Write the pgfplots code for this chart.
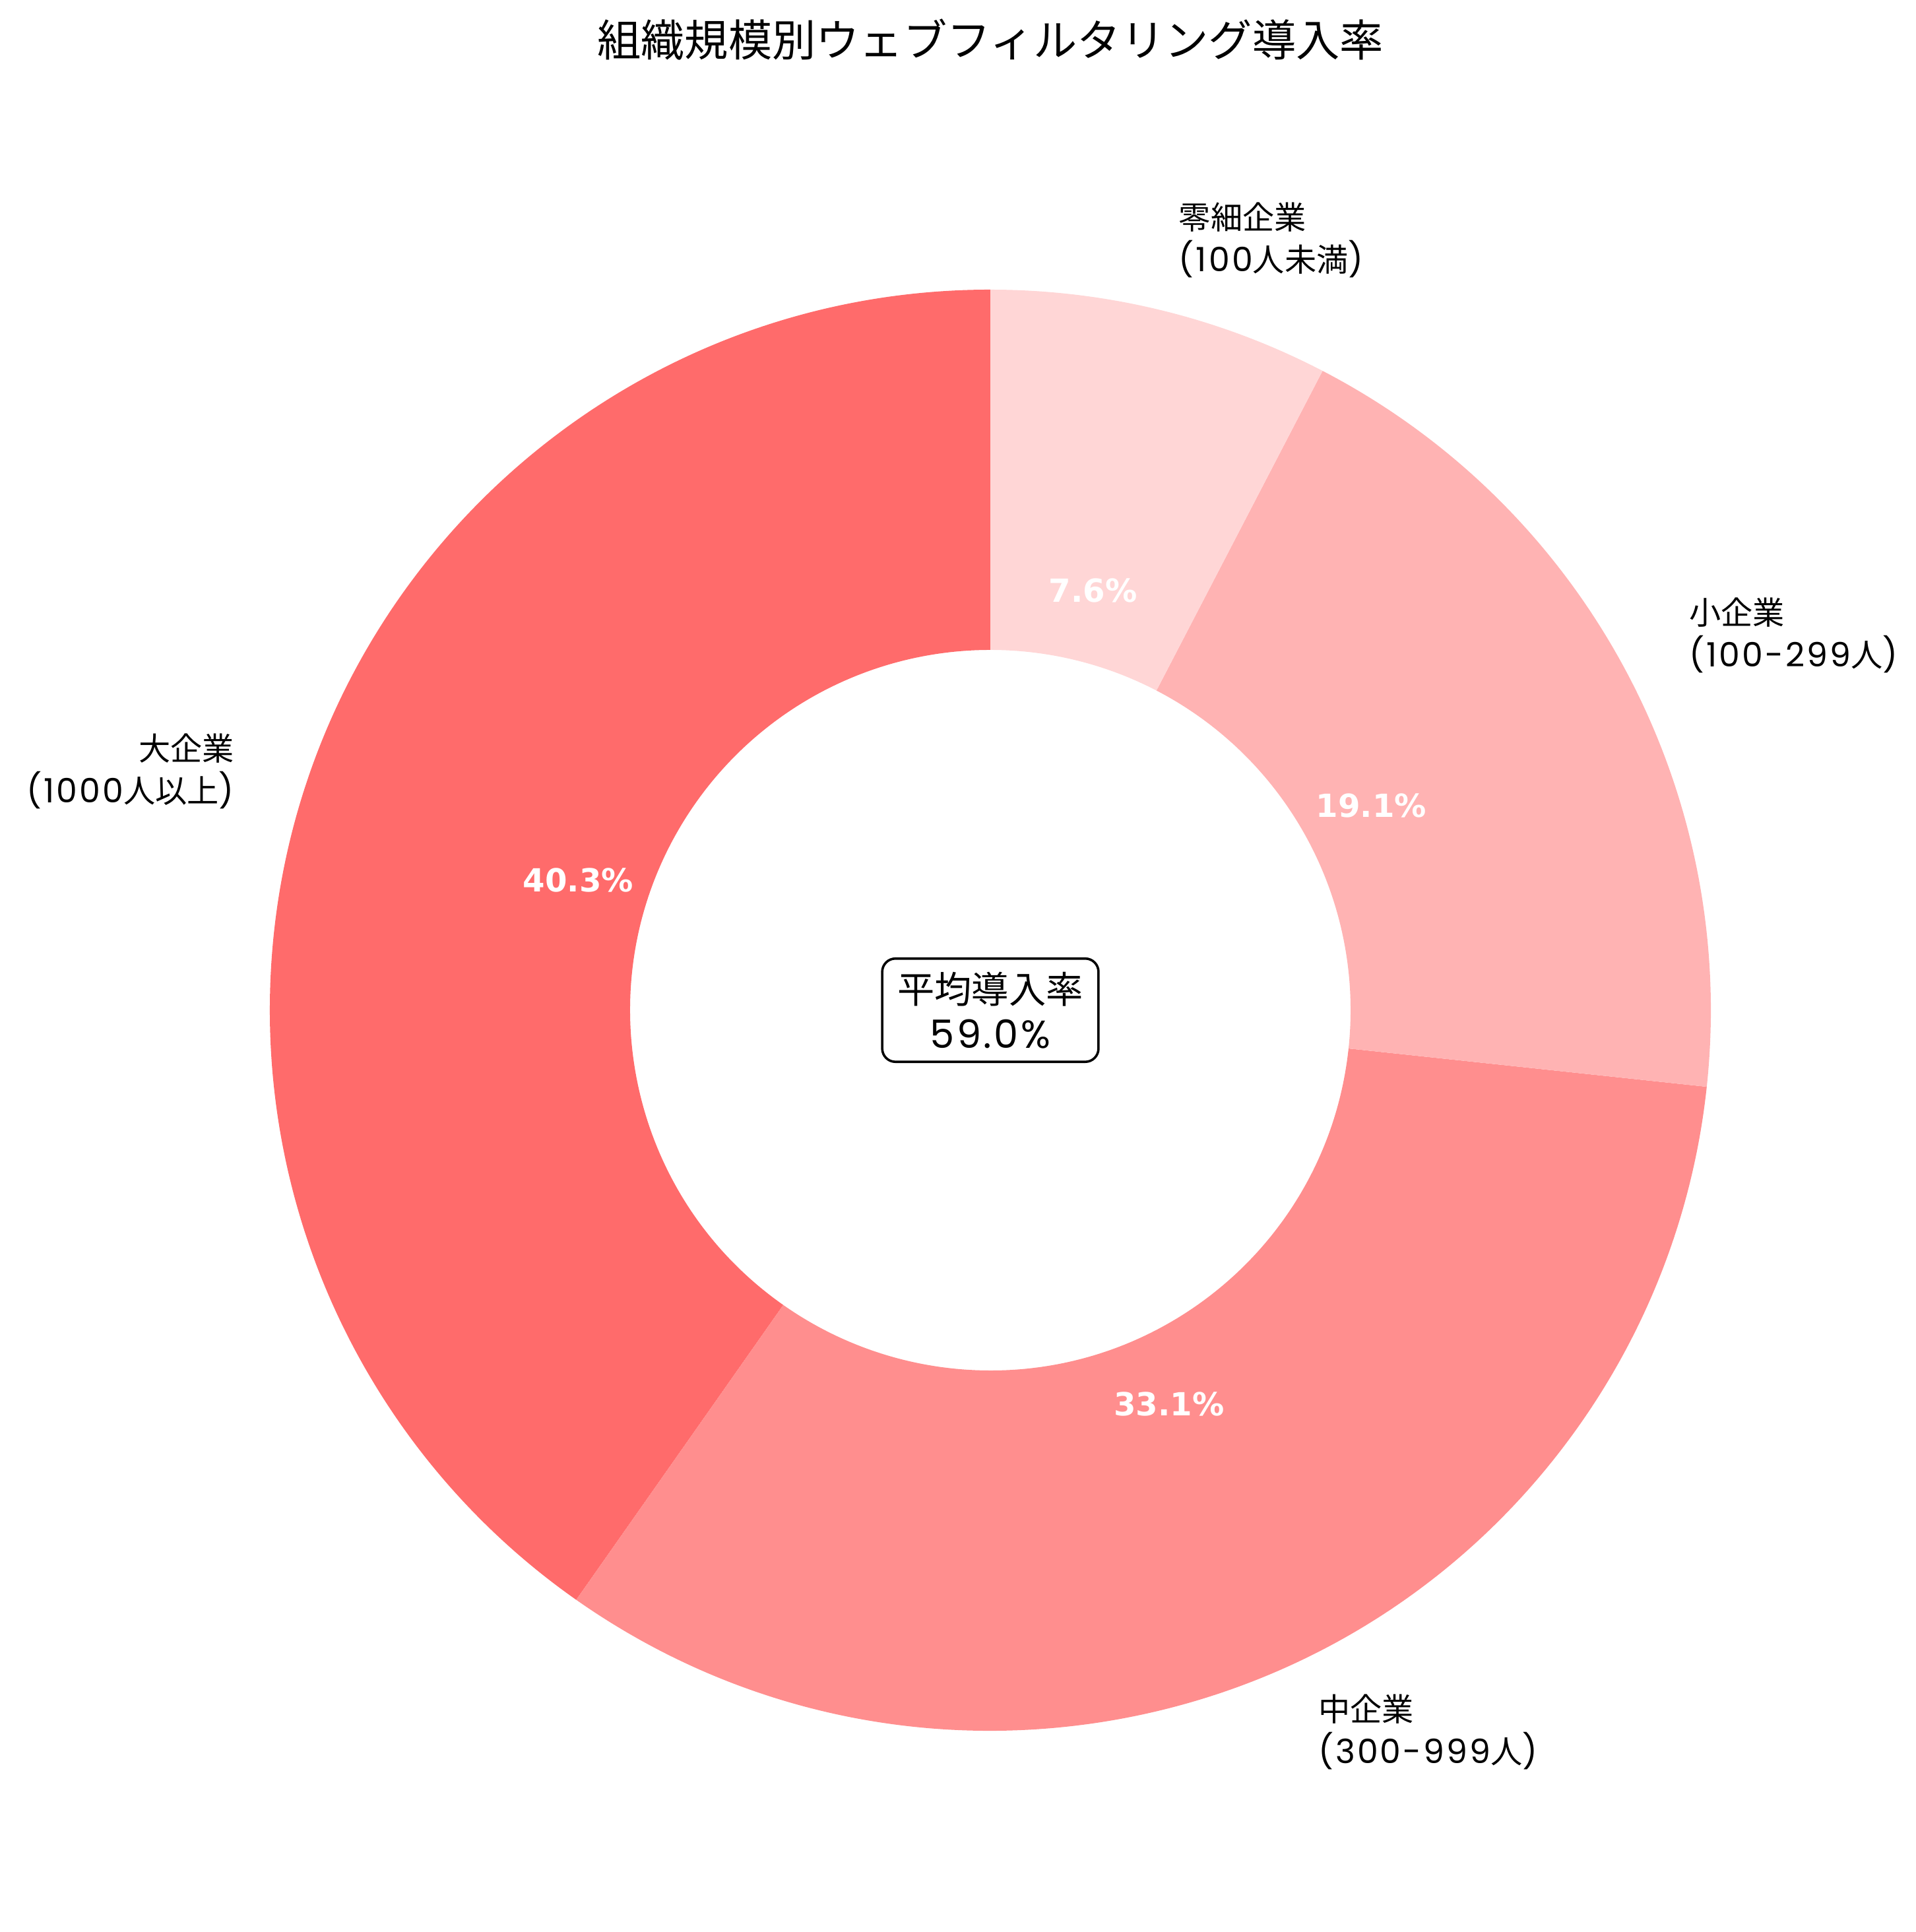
\documentclass[border=0pt]{standalone}
\usepackage{pgfplots}
\pgfplotsset{compat=1.18}
\usepackage{fontspec}
\setmainfont{Noto Sans CJK JP}
\newfontfamily\pctfont{DejaVu Sans}
\newfontfamily\lat{Poppins}[Scale=1.05, LetterSpace=6]

\definecolor{cLarge}{HTML}{FF6B6B}
\definecolor{cMid}{HTML}{FF8E8E}
\definecolor{cSmall}{HTML}{FFB3B3}
\definecolor{cMicro}{HTML}{FFD6D6}

% adoption counts: large, mid, small, micro
\def\vA{95}\def\vB{78}\def\vC{45}\def\vD{18}
\pgfmathsetmacro\tot{\vA+\vB+\vC+\vD}
\pgfmathsetmacro\aA{90}
\pgfmathsetmacro\aB{\aA+\vA/\tot*360}
\pgfmathsetmacro\aC{\aB+\vB/\tot*360}
\pgfmathsetmacro\aD{\aC+\vC/\tot*360}
\pgfmathsetmacro\aE{\aD+\vD/\tot*360}
\pgfmathsetmacro\mA{(\aA+\aB)/2}
\pgfmathsetmacro\mB{(\aB+\aC)/2}
\pgfmathsetmacro\mC{(\aC+\aD)/2}
\pgfmathsetmacro\mD{(\aD+\aE)/2}

\newcommand\ringpart[3]{%
  \fill[#3] (axis cs:{0.5*cos(#1)},{0.5*sin(#1)}) -- (axis cs:{cos(#1)},{sin(#1)})
    arc[start angle=#1, end angle=#2, radius=1]
    -- (axis cs:{0.5*cos(#2)},{0.5*sin(#2)})
    arc[start angle=#2, end angle=#1, radius=0.5] -- cycle;}

\begin{document}
\begin{tikzpicture}[
  lbl/.style={font=\fontsize{12}{16}\selectfont, inner sep=0pt},
  pct/.style={font=\pctfont\bfseries\fontsize{12}{14}\selectfont, text=white},
]
\begin{axis}[
  width=722.7pt, height=728.9pt, scale only axis,
  xmin=-1.3745, xmax=1.2839, ymin=-1.2793, ymax=1.4020,
  hide axis, clip=false,
]
\path (rel axis cs:0,0) rectangle (rel axis cs:1,1);
\ringpart{\aA}{\aB}{cLarge}
\ringpart{\aB}{\aC}{cMid}
\ringpart{\aC}{\aD}{cSmall}
\ringpart{\aD}{\aE}{cMicro}

\node[lbl, anchor=east, align=right] at (axis cs:{1.1*cos(\mA)},{1.1*sin(\mA)}) {大企業\\{\lat(1000}人以上{\lat)}};
\node[lbl, anchor=west, align=left] at (axis cs:{1.1*cos(\mB)},{1.1*sin(\mB)}) {中企業\\{\lat(300-999}人{\lat)}};
\node[lbl, anchor=west, align=left] at (axis cs:{1.1*cos(\mC)},{1.1*sin(\mC)}) {小企業\\{\lat(100-299}人{\lat)}};
\node[lbl, anchor=west, align=left] at (axis cs:{1.1*cos(\mD)},{1.1*sin(\mD)}) {零細企業\\{\lat(100}人未満{\lat)}};

\node[pct] at (axis cs:{0.6*cos(\mA)},{0.6*sin(\mA)}) {40.3\%};
\node[pct] at (axis cs:{0.6*cos(\mB)},{0.6*sin(\mB)}) {33.1\%};
\node[pct] at (axis cs:{0.6*cos(\mC)},{0.6*sin(\mC)}) {19.1\%};
\node[pct] at (axis cs:{0.6*cos(\mD)},{0.6*sin(\mD)}) {7.6\%};

\node[draw, fill=white, rounded corners=5pt, line width=0.9pt,
  inner xsep=5.8pt, inner ysep=5pt, align=center,
  font=\fontsize{14}{17}\selectfont] at (axis cs:0,0) {平均導入率\\{\lat 59.0\%}};

\node[font=\fontsize{16.5}{19}\selectfont] at (axis cs:0,1.347) {組織規模別ウェブフィルタリング導入率};
\end{axis}
\end{tikzpicture}
\end{document}
